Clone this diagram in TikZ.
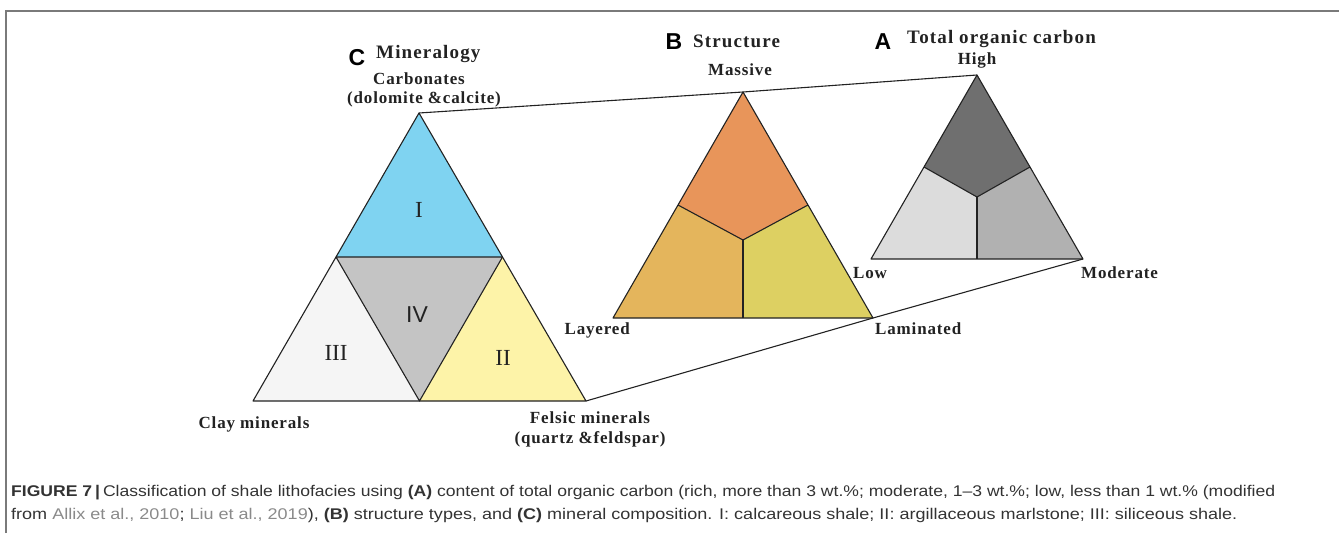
\documentclass[tikz,border=0pt]{standalone}
\usepackage{fontspec}
\usepackage{graphicx}
\setmainfont{Liberation Serif}
\newfontfamily\titlefont[LetterSpace=6]{Liberation Serif}
\newfontfamily\labfont[LetterSpace=5]{Liberation Serif}
\newfontfamily\hsans{Liberation Sans}
\usetikzlibrary{calc}
\definecolor{edgec}{HTML}{222222}
\definecolor{frameC}{HTML}{7A7A7A}
\definecolor{cI}{HTML}{7FD3F1}
\definecolor{cII}{HTML}{FDF3A8}
\definecolor{cIII}{HTML}{F5F5F5}
\definecolor{cIV}{HTML}{C4C4C4}
\definecolor{bTop}{HTML}{E8955A}
\definecolor{bLeft}{HTML}{E4B55C}
\definecolor{bRight}{HTML}{DDD062}
\definecolor{aTop}{HTML}{6F6F6F}
\definecolor{aLeft}{HTML}{DCDCDC}
\definecolor{aRight}{HTML}{B1B1B1}
\definecolor{capC}{HTML}{333333}
\definecolor{refC}{HTML}{8A8A8A}
\tikzset{
  region/.style={draw=edgec, line width=1.1pt, line join=round},
  link/.style={draw=edgec, line width=1.1pt},
  framel/.style={draw=frameC, line width=2pt},
  title/.style={font=\titlefont\bfseries\fontsize{19}{21}\selectfont, text=edgec, inner sep=0pt},
  vlabel/.style={font=\labfont\bfseries\fontsize{17}{19}\selectfont, text=edgec, inner sep=0pt, align=center},
  letter/.style={font=\hsans\bfseries\fontsize{23}{25}\selectfont, inner sep=0pt},
  roman/.style={font=\fontsize{23}{25}\selectfont, text=edgec, inner sep=0pt},
  caption/.style={font=\hsans\fontsize{15.5}{17}\selectfont, text=capC, inner sep=0pt}
}
\begin{document}
\begin{tikzpicture}[x=1pt,y=-1pt]
\useasboundingbox (0,0) rectangle (1339,533);
% frame
\coordinate (f1) at (6,533);
\coordinate (f2) at (6,11);
\coordinate (f3) at (1339,11);
\draw[framel] (f1) -- (f2) -- (f3);

% Triangle C
\coordinate (Ct) at (419,113);
\coordinate (Cl) at (253,401);
\coordinate (Cr) at (586,401);
\coordinate (Cml) at ($(Ct)!0.5!(Cl)$);
\coordinate (Cmr) at ($(Ct)!0.5!(Cr)$);
\coordinate (Cmb) at ($(Cl)!0.5!(Cr)$);
\fill[cI] (Ct) -- (Cml) -- (Cmr) -- cycle;
\fill[cIII] (Cml) -- (Cl) -- (Cmb) -- cycle;
\fill[cII] (Cmr) -- (Cmb) -- (Cr) -- cycle;
\fill[cIV] (Cml) -- (Cmb) -- (Cmr) -- cycle;
\draw[region] (Ct) -- (Cl) -- (Cr) -- cycle;
\draw[region] (Cml) -- (Cmr) -- (Cmb) -- cycle;

% Triangle B
\coordinate (Bt) at (743,92);
\coordinate (Bl) at (613,318);
\coordinate (Br) at (873,318);
\coordinate (Bml) at ($(Bt)!0.5!(Bl)$);
\coordinate (Bmr) at ($(Bt)!0.5!(Br)$);
\coordinate (Bmb) at ($(Bl)!0.5!(Br)$);
\coordinate (Bc) at (743,240);
\fill[bTop] (Bt) -- (Bml) -- (Bc) -- (Bmr) -- cycle;
\fill[bLeft] (Bml) -- (Bl) -- (Bmb) -- (Bc) -- cycle;
\fill[bRight] (Bmr) -- (Bc) -- (Bmb) -- (Br) -- cycle;
\draw[region] (Bt) -- (Bl) -- (Br) -- cycle;
\draw[region] (Bml) -- (Bc) -- (Bmr);
\draw[region] (Bc) -- (Bmb);

% Triangle A
\coordinate (At) at (977,75);
\coordinate (Al) at (871,259);
\coordinate (Ar) at (1083,259);
\coordinate (Aml) at ($(At)!0.5!(Al)$);
\coordinate (Amr) at ($(At)!0.5!(Ar)$);
\coordinate (Amb) at ($(Al)!0.5!(Ar)$);
\coordinate (Ac) at (977,197);
\fill[aTop] (At) -- (Aml) -- (Ac) -- (Amr) -- cycle;
\fill[aLeft] (Aml) -- (Al) -- (Amb) -- (Ac) -- cycle;
\fill[aRight] (Amr) -- (Ac) -- (Amb) -- (Ar) -- cycle;
\draw[region] (At) -- (Al) -- (Ar) -- cycle;
\draw[region] (Aml) -- (Ac) -- (Amr);
\draw[region] (Ac) -- (Amb);

% connectors
\draw[link] (Ct) -- (Bt) -- (At);
\draw[link] (Cr) -- (Br) -- (Ar);

% roman numerals
\node[roman] (rI) at (419,210) {I};
\node[roman, font=\hsans\fontsize{23}{25}\selectfont] (rIV) at (417,315) {IV};
\node[roman] (rIII) at (336,353) {III};
\node[roman] (rII) at (503,358) {II};

% titles
\node[letter, anchor=base] (lC) at (357,65) {C};
\node[title, anchor=base west] (tC) at (376,58) {Mineralogy};
\node[letter, anchor=base] (lB) at (674,49) {B};
\node[title, anchor=base west] (tB) at (693,47) {Structure};
\node[letter, anchor=base] (lA) at (883,49) {A};
\node[title, anchor=base west] (tA) at (907,43) {Total organic carbon};

% vertex labels
\node[vlabel, anchor=base] (vC1) at (419,84) {Carbonates};
\node[vlabel, anchor=base] (vC2) at (424,103) {(dolomite \&calcite)};
\node[vlabel, anchor=base] (vC3) at (254,428) {Clay minerals};
\node[vlabel, anchor=base] (vC4) at (590,423) {Felsic minerals};
\node[vlabel, anchor=base] (vC5) at (590,443) {(quartz \&feldspar)};
\node[vlabel, anchor=base] (vB1) at (740,75) {Massive};
\node[vlabel, anchor=base east] (vB2) at (630,334) {Layered};
\node[vlabel, anchor=base west] (vB3) at (875,334) {Laminated};
\node[vlabel, anchor=base] (vA1) at (977,64) {High};
\node[vlabel, anchor=base west] (vA2) at (853,278) {Low};
\node[vlabel, anchor=base west] (vA3) at (1081,278) {Moderate};

% caption
\node[caption, anchor=base west] (cap1) at (11,496) {\resizebox{1264pt}{\height}{\textbf{FIGURE 7\,|}\,Classification of shale lithofacies using \textbf{(A)} content of total organic carbon (rich, more than 3 wt.\%; moderate, 1–3 wt.\%; low, less than 1 wt.\% (modified}};
\node[caption, anchor=base west] (cap2) at (11,519) {\resizebox{1226pt}{\height}{from \textcolor{refC}{Allix et al., 2010}; \textcolor{refC}{Liu et al., 2019}), \textbf{(B)} structure types, and \textbf{(C)} mineral composition. I: calcareous shale; II: argillaceous marlstone; III: siliceous shale.}};
\end{tikzpicture}
\end{document}
